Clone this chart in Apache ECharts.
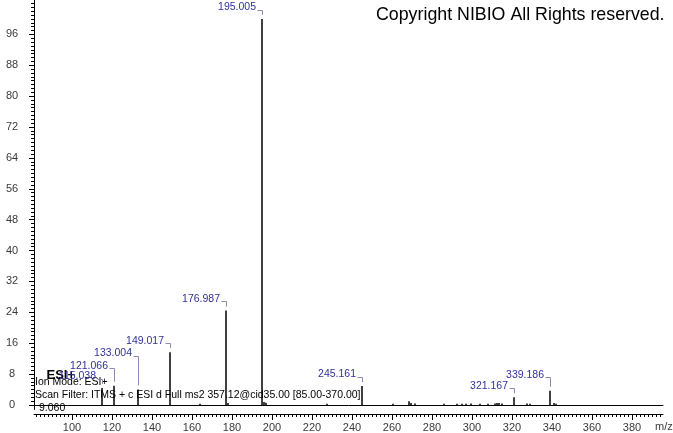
<!DOCTYPE html>
<html>
<head>
<meta charset="utf-8">
<script src="https://cdn.jsdelivr.net/npm/echarts@6/dist/echarts.min.js"></script>
<style>
  html, body { margin: 0; padding: 0; background: #fff; }
  #c { width: 673px; height: 433px; }
</style>
</head>
<body>
<div id="c"></div>
<script>
// MS2 spectrum (m/z vs relative abundance)
const peakMz = [115.038, 121.066, 133.004, 149.017, 164.0, 176.987, 178.0, 195.005, 196.0, 197.0,
  227.3, 245.161, 260.7, 268.7, 269.5, 271.5, 286.2, 292.7, 295.2, 297.0, 299.3, 304.0, 307.8,
  311.5, 312.7, 313.7, 314.8, 321.167, 327.3, 329.0, 339.186, 341.0, 342.0]
const peakInt = [4.4, 5.0, 4.0, 13.7, 0.3, 24.5, 0.5, 100, 0.8, 0.6,
  0.3, 4.9, 0.3, 1.0, 0.5, 0.4, 0.3, 0.3, 0.3, 0.3, 0.4, 0.3, 0.3,
  0.4, 0.5, 0.5, 0.4, 2.0, 0.4, 0.3, 3.7, 0.5, 0.3]

// annotated peaks
const labelMz = [115.038, 121.066, 133.004, 149.017, 176.987, 195.005, 245.161, 321.167, 339.186]
const labelInt = [4.4, 5.0, 4.0, 13.7, 24.5, 100, 4.9, 2.0, 3.7]

const xTickLabels = [100, 120, 140, 160, 180, 200, 220, 240, 260, 280, 300, 320, 340, 360, 380]
const yTickLabels = [0, 8, 16, 24, 32, 40, 48, 56, 64, 72, 80, 88, 96]

const headerText = 'Copyright NIBIO All Rights reserved.'
const ionModeText = 'Ion Mode: ESI+'
const scanFilterText = 'Scan Filter: ITMS + c ESI d Full ms2 357.12@cid35.00 [85.00-370.00]'
const polarityText = 'ESI+'
const rtText = '9.060'

// layout
const FONT = "'Liberation Sans', Arial, sans-serif"
const X_MIN = 81, X_MAX = 395.5
const Y_MIN = -1.16, Y_MAX = 104.9
const LABEL_RAISE_DEFAULT = 11.5
const LABEL_RAISE = { '121.066': 20, '133.004': 36, '339.186': 16 } // labels pushed up to avoid overlap
const C = { ink: '#000', axisText: '#3a3a3a', peakLabel: '#30309a', hook: '#8a8ab2' }

const xMinor = []
for (let v = 82; v <= 394; v += 2) xMinor.push(v)
const yMinor = []
for (let v = 0; v <= 104; v += 1) yMinor.push(v)

const noLine = { show: false }
const xBase = { type: 'value', min: X_MIN, max: X_MAX, position: 'bottom', splitLine: noLine }
const yBase = { type: 'value', min: Y_MIN, max: Y_MAX, position: 'left', splitLine: noLine }

const chart = echarts.init(document.getElementById('c'))
chart.setOption({
  animation: false,
  backgroundColor: '#fff',
  grid: { left: 34, right: 10, top: 0, bottom: 23 },
  xAxis: [
    // spectrum baseline at intensity 0
    { ...xBase, axisLine: { show: true, onZero: true, onZeroAxisIndex: 0, lineStyle: { color: C.ink } },
      axisTick: noLine, axisLabel: noLine },
    // minor ticks
    { ...xBase, offset: 4.5, axisLine: { show: false, onZero: false },
      axisTick: { show: true, customValues: xMinor, length: 3, lineStyle: { color: C.ink } }, axisLabel: noLine },
    // axis line, major ticks and labels
    { ...xBase, offset: 4.5, axisLine: { show: true, onZero: false, lineStyle: { color: C.ink } },
      axisTick: { show: true, customValues: xTickLabels, length: 6, lineStyle: { color: C.ink } },
      axisLabel: { customValues: xTickLabels, color: C.axisText, fontFamily: FONT, fontSize: 11, margin: 8 } },
  ],
  yAxis: [
    { ...yBase, axisLine: { show: true, onZero: false, lineStyle: { color: C.ink } },
      axisTick: { show: true, customValues: yTickLabels, length: 5, lineStyle: { color: C.ink } },
      axisLabel: { customValues: yTickLabels, color: C.axisText, fontFamily: FONT, fontSize: 11,
        align: 'center', margin: 22 } },
    { ...yBase, axisLine: { show: false, onZero: false },
      axisTick: { show: true, customValues: yMinor, length: 3, lineStyle: { color: C.ink } }, axisLabel: noLine },
  ],
  series: [
    {
      type: 'custom', xAxisIndex: 0, yAxisIndex: 0, silent: true,
      data: peakMz.map((m, i) => [m, peakInt[i]]),
      renderItem: (params, api) => {
        const base = api.coord([api.value(0), 0])
        const top = api.coord([api.value(0), api.value(1)])
        const x = Math.round(base[0])
        return { type: 'line', shape: { x1: x, y1: base[1], x2: x, y2: top[1] },
          style: { stroke: C.ink, lineWidth: 1.5 } }
      },
    },
    {
      type: 'custom', xAxisIndex: 0, yAxisIndex: 0, silent: true,
      data: labelMz.map((m, i) => [m, labelInt[i]]),
      renderItem: (params, api) => {
        const mz = api.value(0)
        const top = api.coord([mz, api.value(1)])
        const txt = mz.toFixed(3)
        const raise = LABEL_RAISE[txt] || LABEL_RAISE_DEFAULT
        const px = Math.round(top[0]) + 0.5
        const midY = top[1] - raise
        const hookY = Math.round(midY + 2.5) + 0.5
        return {
          type: 'group',
          children: [
            { type: 'text', style: { text: txt, x: px - 6.5, y: midY, align: 'right', verticalAlign: 'middle',
              font: '10.5px ' + FONT, fill: C.peakLabel } },
            { type: 'polyline', shape: { points: [[px - 5, hookY], [px, hookY], [px, top[1] - 4]] },
              style: { stroke: C.hook, fill: null, lineWidth: 1 } },
          ],
        }
      },
    },
  ],
  graphic: [
    { type: 'text', x: 376, y: 15, style: { text: headerText, font: '17.8px ' + FONT, fill: C.ink, verticalAlign: 'middle' } },
    { type: 'text', x: 655, y: 427, style: { text: 'm/z', font: '11px ' + FONT, fill: C.axisText, verticalAlign: 'middle' } },
    { type: 'text', x: 35, y: 382.5, style: { text: ionModeText, font: '10.5px ' + FONT, fill: C.ink, verticalAlign: 'middle' } },
    { type: 'text', x: 35, y: 395, style: { text: scanFilterText, font: '10.5px ' + FONT, fill: C.ink, verticalAlign: 'middle' } },
    { type: 'text', x: 46.5, y: 375, style: { text: polarityText, font: 'bold 13px ' + FONT, fill: C.ink, verticalAlign: 'middle' } },
    { type: 'text', x: 39, y: 408, style: { text: rtText, font: '10.5px ' + FONT, fill: C.ink, verticalAlign: 'middle' } },
  ],
})
</script>
</body>
</html>
